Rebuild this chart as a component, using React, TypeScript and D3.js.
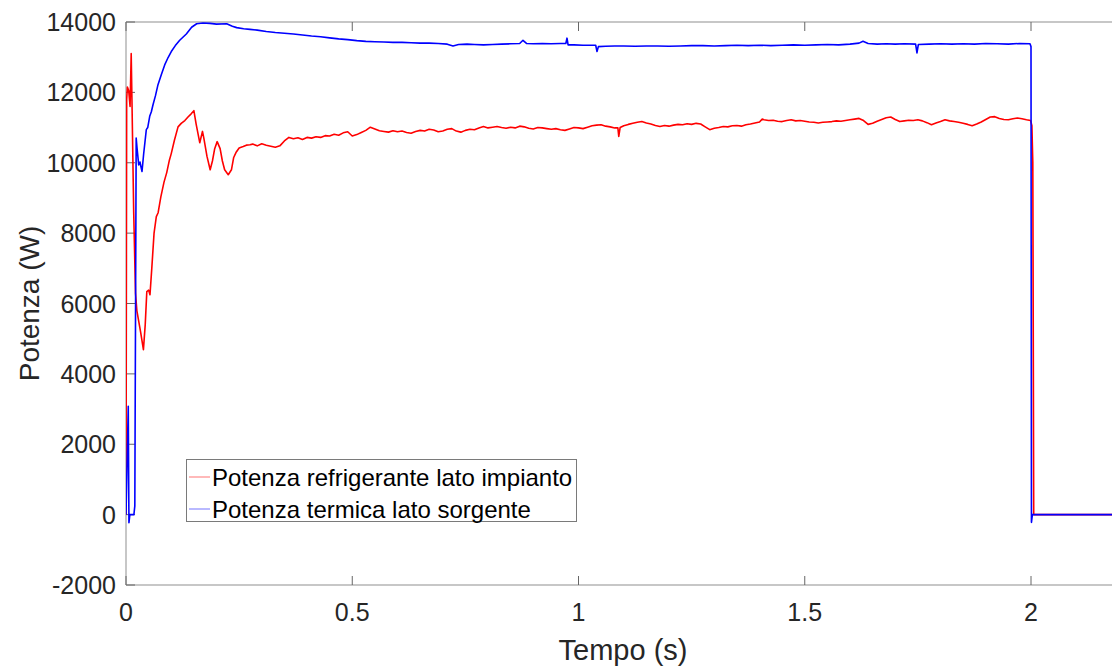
import React from "react";
import * as d3 from "d3";

// Time (s) and power (W) for "Potenza refrigerante lato impianto"
const redT = [0, 0.0015, 0.003, 0.006, 0.009, 0.0115, 0.0135, 0.017, 0.021, 0.024, 0.0325, 0.0385, 0.0425, 0.046, 0.05, 0.053, 0.057, 0.062, 0.067, 0.071, 0.077, 0.084, 0.09, 0.096, 0.1, 0.107, 0.115, 0.122, 0.13, 0.137, 0.144, 0.15, 0.155, 0.163, 0.169, 0.172, 0.179, 0.186, 0.191, 0.196, 0.2015, 0.208, 0.213, 0.218, 0.226, 0.233, 0.238, 0.243, 0.25, 0.259, 0.266, 0.274,
  0.28, 0.29, 0.3, 0.31, 0.32, 0.33, 0.34, 0.35, 0.36, 0.37, 0.38, 0.39, 0.4, 0.41, 0.42, 0.43, 0.44, 0.45, 0.46, 0.47, 0.48, 0.49, 0.5, 0.51, 0.52, 0.53, 0.54, 0.55, 0.56, 0.57, 0.58, 0.59, 0.6, 0.61, 0.62, 0.63, 0.64, 0.65, 0.66, 0.67, 0.68, 0.69, 0.7, 0.71, 0.72, 0.73, 0.74, 0.75, 0.76, 0.77, 0.78, 0.79, 0.8, 0.81, 0.82, 0.83, 0.84, 0.85, 0.86, 0.87, 0.88, 0.89, 0.9, 0.91, 0.92, 0.93, 0.94, 0.95, 0.96, 0.97, 0.98, 0.99, 1.0, 1.01, 1.02, 1.03, 1.04, 1.05, 1.06, 1.07, 1.08, 1.087, 1.089, 1.092, 1.1, 1.11, 1.12, 1.13, 1.14, 1.15, 1.16, 1.17, 1.18, 1.19, 1.2, 1.21, 1.22, 1.23, 1.24, 1.25, 1.26, 1.27, 1.28, 1.29, 1.3, 1.31, 1.32, 1.33, 1.34, 1.35, 1.36, 1.37, 1.38, 1.39, 1.4, 1.406, 1.41, 1.42, 1.43, 1.44, 1.45, 1.46, 1.47, 1.48, 1.49, 1.5, 1.51, 1.52, 1.53, 1.54, 1.55, 1.56, 1.57, 1.58, 1.59, 1.6, 1.61, 1.62, 1.63, 1.64, 1.65, 1.66, 1.67, 1.68, 1.69, 1.7, 1.71, 1.72, 1.73, 1.74, 1.75, 1.76, 1.77, 1.78, 1.79, 1.8, 1.81, 1.82, 1.83, 1.84, 1.85, 1.86, 1.87, 1.88, 1.89, 1.9, 1.91, 1.92, 1.93, 1.94, 1.95, 1.96, 1.97, 1.98, 1.99, 1.999, 2.002, 2.004, 2.006, 2.2];
const redW = [0, 11800, 12150, 12050, 11600, 13100, 11500, 8600, 6300, 5800, 5170, 4690, 5400, 6340, 6380, 6250, 7000, 8000, 8470, 8580, 9030, 9450, 9720, 10080, 10260, 10640, 11020, 11120, 11200, 11300, 11390, 11480, 11100, 10570, 10890, 10700, 10180, 9800, 10050, 10400, 10600, 10400, 10050, 9800, 9660, 9800, 10150, 10290, 10420, 10460, 10500, 10510,
  10530, 10480, 10540, 10500, 10470, 10440, 10480, 10620, 10720, 10680, 10710, 10660, 10720, 10700, 10740, 10720, 10770, 10760, 10810, 10780, 10850, 10880, 10760, 10800, 10860, 10920, 11010, 10960, 10910, 10890, 10870, 10910, 10880, 10900, 10860, 10840, 10890, 10920, 10900, 10950, 10930, 10880, 10900, 10950, 10970, 10900, 10870, 10920, 10950, 10940, 10990, 11030, 10990, 11010, 11030, 11000, 10980, 11010, 10990, 11040, 11020, 10980, 10960, 11000, 10990, 10970, 10950, 10970, 10940, 10920, 10960, 11000, 10990, 10970, 11010, 11050, 11070, 11080, 11040, 11020, 10990, 10990, 10750, 11000, 11050, 11090, 11120, 11150, 11170, 11130, 11100, 11060, 11030, 11060, 11040, 11070, 11090, 11080, 11110, 11090, 11120, 11100, 11020, 10940, 10980, 11000, 11030, 11020, 11050, 11060, 11040, 11080, 11100, 11130, 11160, 11240, 11220, 11200, 11210, 11180, 11170, 11200, 11220, 11190, 11200, 11180, 11160, 11150, 11130, 11150, 11160, 11170, 11190, 11180, 11200, 11220, 11240, 11260, 11200, 11090, 11120, 11180, 11230, 11280, 11300, 11230, 11170, 11190, 11210, 11200, 11220, 11190, 11140, 11080, 11130, 11170, 11220, 11190, 11170, 11150, 11120, 11090, 11050, 11100, 11160, 11230, 11300, 11310, 11260, 11230, 11220, 11250, 11270, 11250, 11220, 11200, 11050, 10000, 0, 0];

// Time (s) and power (W) for "Potenza termica lato sorgente"
const blueT = [0, 0.005, 0.0065, 0.0085, 0.0175, 0.0195, 0.0225, 0.0245, 0.0281, 0.031, 0.0325, 0.0354, 0.039, 0.0449, 0.048, 0.0524, 0.056, 0.0597, 0.065, 0.0707, 0.078, 0.0855, 0.093, 0.1001, 0.109, 0.1187, 0.1333, 0.145, 0.1562, 0.17, 0.1856, 0.2, 0.2225, 0.235, 0.2446, 0.26, 0.274, 0.29, 0.31, 0.33, 0.35, 0.37, 0.39, 0.41, 0.43, 0.45, 0.47, 0.49, 0.51, 0.53, 0.55, 0.57, 0.59, 0.61, 0.63, 0.65, 0.67, 0.69, 0.71, 0.7227, 0.735, 0.7536, 0.77, 0.79, 0.81, 0.83, 0.85, 0.87, 0.8773, 0.885, 0.9, 0.92, 0.94, 0.96, 0.972, 0.9746, 0.977, 0.99, 1.01, 1.03, 1.038, 1.0409, 1.044, 1.06, 1.08, 1.1, 1.125, 1.15, 1.175, 1.2, 1.225, 1.25, 1.275, 1.3, 1.325, 1.35, 1.375, 1.4, 1.425, 1.45, 1.475, 1.5, 1.525, 1.55, 1.575, 1.6, 1.62, 1.6287, 1.64, 1.66, 1.68, 1.7, 1.72, 1.745, 1.748, 1.751, 1.775, 1.8, 1.825, 1.85, 1.875, 1.9, 1.925, 1.95, 1.975, 1.9978, 2.0, 2.001, 2.003, 2.2];
const blueW = [0, 3080, -230, 0, 0, 250, 10700, 10400, 9940, 10020, 9920, 9750, 10250, 10940, 11000, 11320, 11450, 11650, 11900, 12220, 12500, 12780, 12990, 13160, 13330, 13480, 13660, 13850, 13950, 13970, 13960, 13940, 13950, 13880, 13840, 13810, 13790, 13770, 13730, 13700, 13680, 13660, 13630, 13600, 13580, 13550, 13520, 13500, 13470, 13450, 13440, 13430, 13420, 13420, 13410, 13400, 13400, 13390, 13370, 13320, 13360, 13370, 13360, 13350, 13360, 13370, 13380, 13390, 13480, 13390, 13380, 13390, 13380, 13390, 13390, 13540, 13350, 13350, 13340, 13340, 13340, 13160, 13300, 13310, 13320, 13320, 13310, 13320, 13320, 13310, 13320, 13330, 13330, 13320, 13330, 13340, 13330, 13340, 13330, 13340, 13350, 13340, 13350, 13360, 13350, 13370, 13400, 13450, 13390, 13370, 13380, 13370, 13380, 13370, 13120, 13360, 13370, 13380, 13370, 13380, 13370, 13390, 13380, 13370, 13390, 13380, 13300, -220, 0, 0];

const xTicks = [0, 0.5, 1, 1.5, 2];
const yTicks = [-2000, 0, 2000, 4000, 6000, 8000, 10000, 12000, 14000];
const seriesNames = ["Potenza refrigerante lato impianto", "Potenza termica lato sorgente"];
const seriesColors = ["#ff0000", "#0000ff"];

export default function App() {
  const W = 1112, H = 666;
  const left = 126, top = 22, bottom = 585;
  const x = d3.scaleLinear().domain([0, 2.2]).range([left, left + 2.2 * 452.5]);
  const y = d3.scaleLinear().domain([-2000, 14000]).range([bottom, top]);
  const line = d3.line<[number, number]>().x(d => x(d[0])).y(d => y(d[1]));
  const redData = redT.map((t, i) => [t, redW[i]] as [number, number]);
  const blueData = blueT.map((t, i) => [t, blueW[i]] as [number, number]);
  const font = "'Liberation Sans', Arial, Helvetica, sans-serif";
  const right = x.range()[1];
  const tc = "#262626";
  return (
    <svg width={W} height={H} style={{ position: "absolute", left: 0, top: 0, background: "#fff" }} fontFamily={font}>
      <defs>
        <clipPath id="plot"><rect x={left} y={top} width={right - left} height={bottom - top} /></clipPath>
      </defs>
      <rect x={0} y={0} width={W} height={H} fill="#fff" />
      <line x1={left} y1={bottom} x2={right} y2={bottom} stroke="#b4b4b4" strokeWidth={1.5} />
      <line x1={left} y1={top} x2={right} y2={top} stroke="#b4b4b4" strokeWidth={1.5} />
      <line x1={left} y1={top} x2={left} y2={bottom} stroke="#b4b4b4" strokeWidth={1.5} />
      {yTicks.map(v => (
        <g key={"y" + v}>
          <line x1={left} x2={left + 9} y1={y(v)} y2={y(v)} stroke="#666" strokeWidth={1} />
          <text x={116} y={y(v)} dy="0.36em" textAnchor="end" fontSize={25} fill={tc}>{v}</text>
        </g>
      ))}
      {xTicks.map(v => (
        <g key={"x" + v}>
          <line x1={x(v)} x2={x(v)} y1={bottom} y2={bottom - 9} stroke="#666" strokeWidth={1} />
          <line x1={x(v)} x2={x(v)} y1={top} y2={top + 9} stroke="#666" strokeWidth={1} />
          <text x={x(v)} y={621} textAnchor="middle" fontSize={25} fill={tc}>{v}</text>
        </g>
      ))}
      <g clipPath="url(#plot)">
        <path d={line(redData) || ""} fill="none" stroke={seriesColors[0]} strokeWidth={1.6} strokeLinejoin="round" />
        <path d={line(blueData) || ""} fill="none" stroke={seriesColors[1]} strokeWidth={1.6} strokeLinejoin="round" />
      </g>
      <rect x={186.5} y={459.5} width={390} height={62} fill="#fff" stroke="#7a7a7a" strokeWidth={1} />
      {seriesNames.map((n, i) => (
        <g key={n}>
          <line x1={189} x2={210} y1={477 + i * 32} y2={477 + i * 32} stroke={seriesColors[i]} strokeOpacity={0.55} strokeWidth={1} />
          <text x={212} y={477 + i * 32} dy="0.36em" fontSize={24} fill="#000">{n}</text>
        </g>
      ))}
      <text x={623} y={660} textAnchor="middle" fontSize={29} fill={tc}>Tempo (s)</text>
      <text transform={`translate(39,${(top + bottom) / 2}) rotate(-90)`} textAnchor="middle" fontSize={28} fill={tc}>Potenza (W)</text>
    </svg>
  );
}
